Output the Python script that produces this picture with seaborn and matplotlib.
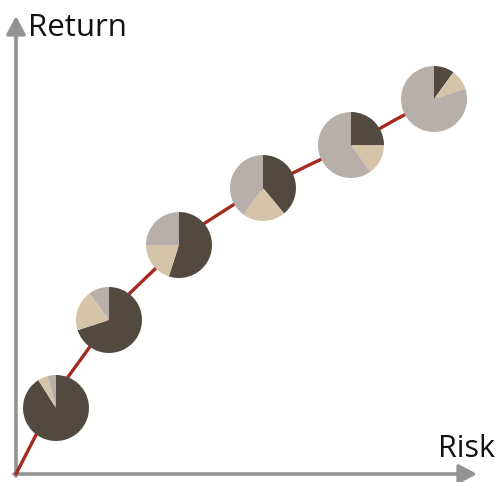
import matplotlib
matplotlib.use("Agg")
import matplotlib.pyplot as plt
import seaborn as sns
import pandas as pd

# Efficient frontier (risk, return) traced from the origin upward
frontier_risk = [0, 21, 40, 52, 73, 93, 114, 139, 163, 189, 217, 247, 291, 335, 377, 418]
frontier_return = [0, 41, 66, 97, 126, 154, 181, 205, 229, 251, 269, 286, 308, 329, 353, 375]

# Portfolios along the frontier and their asset mix (clockwise from 12 o'clock)
portfolio_risk = [40, 93, 163, 247, 335, 418]
portfolio_return = [66, 154, 229, 286, 329, 375]
share_dark = [91, 70, 55, 39, 25, 10]
share_tan = [5, 20, 20, 21, 15, 10]
share_gray = [4, 10, 25, 40, 60, 80]

mix_colors = ["#524a3f", "#d6c4aa", "#b7afaa"]
line_color = "#a52a1f"
axis_color = "#939393"

sns.set_theme(style="white")
plt.rcParams["font.family"] = ["Open Sans", "DejaVu Sans"]

fig = plt.figure(figsize=(5.0, 4.82), dpi=100)
ax = fig.add_axes([0, 0, 1, 1])

frontier = pd.DataFrame({"risk": frontier_risk, "ret": frontier_return})
sns.lineplot(data=frontier, x="risk", y="ret", sort=False, color=line_color,
             linewidth=2.4, ax=ax, zorder=2)

for x, y, a, b, c in zip(portfolio_risk, portfolio_return, share_dark, share_tan, share_gray):
    ax.pie([a, b, c], center=(x, y), radius=33, startangle=90, counterclock=False,
           colors=mix_colors, frame=True,
           wedgeprops=dict(linewidth=0, zorder=3))

# Axis arrows
arrow = dict(arrowstyle="-|>,head_length=0.75,head_width=0.4", color=axis_color,
             lw=2.6, mutation_scale=14.4, shrinkA=0, shrinkB=0)
ax.annotate("", xy=(0, 458), xytext=(0, -2), arrowprops=arrow, zorder=1)
ax.annotate("", xy=(461, 0), xytext=(-2, 0), arrowprops=arrow, zorder=1)

ax.set_xlim(-16, 484)
ax.set_ylim(-8, 474)
ax.set_aspect("auto")
ax.axis("off")

fig.text(28 / 500, (482 - 36) / 482, "Return", fontsize=22.5, color="#111111",
         ha="left", va="baseline")
fig.text(438 / 500, (482 - 457) / 482, "Risk", fontsize=22, color="#111111",
         ha="left", va="baseline")

fig.savefig("out.png", dpi=100)
